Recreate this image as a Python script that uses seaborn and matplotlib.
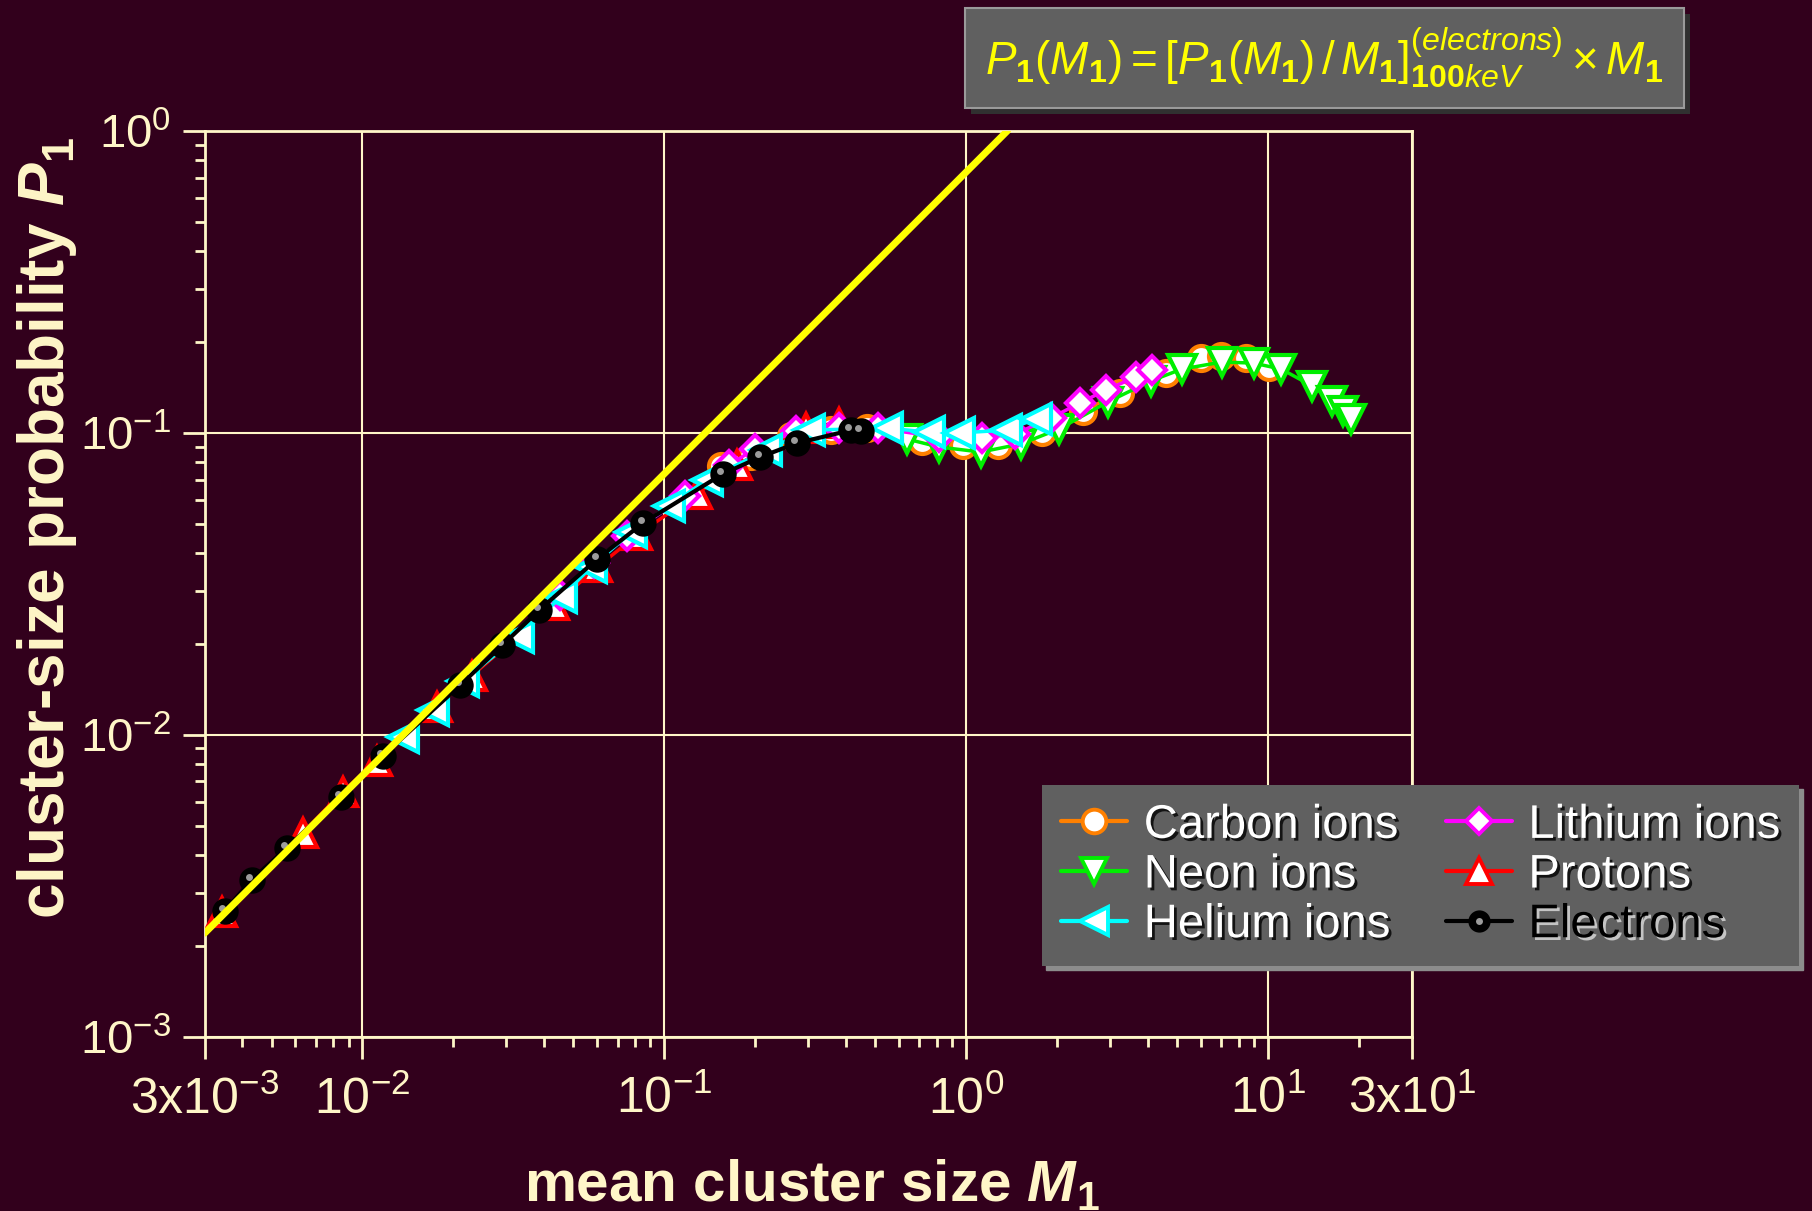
import matplotlib
matplotlib.use('Agg')
import matplotlib.pyplot as plt
import matplotlib.patheffects as pe
from matplotlib import font_manager
from matplotlib.lines import Line2D
from matplotlib.patches import Rectangle
from matplotlib.transforms import offset_copy
from matplotlib.ticker import FixedLocator, FixedFormatter, LogLocator, NullFormatter
import seaborn as sns

# values (mean cluster size M1, probability P1)
carbon_m = [0.154, 0.193, 0.263, 0.357, 0.469, 0.714, 0.975, 1.273, 1.780, 2.432, 3.224, 4.577, 5.975, 6.96, 8.42, 10.1]
carbon_p = [0.0776, 0.0837, 0.0975, 0.102, 0.1036, 0.0939, 0.0911, 0.0911, 0.1005, 0.118, 0.1353, 0.1576, 0.1767, 0.1794, 0.1767, 0.165]

neon_m = [0.637, 0.812, 1.118, 1.517, 2.026, 2.943, 4.083, 5.17, 7.015, 8.95, 11.07, 14.03, 16.33, 17.76, 18.87]
neon_p = [0.0953, 0.0897, 0.0863, 0.0918, 0.1028, 0.1264, 0.1483, 0.1624, 0.1714, 0.1701, 0.1624, 0.1427, 0.1273, 0.118, 0.111]

protons_m = [3.43e-3, 6.34e-3, 8.61e-3, 1.115e-2, 1.76e-2, 2.30e-2, 4.32e-2, 6.00e-2, 8.14e-2, 0.128, 0.174, 0.295, 0.379]
protons_p = [2.59e-3, 4.74e-3, 6.47e-3, 8.20e-3, 1.237e-2, 1.567e-2, 2.69e-2, 3.59e-2, 4.59e-2, 6.27e-2, 7.82e-2, 0.104, 0.108]

lithium_m = [4.50e-2, 5.87e-2, 7.54e-2, 0.117, 0.164, 0.199, 0.273, 0.379, 0.510, 0.812, 1.127, 1.449, 1.906, 2.377, 2.898, 3.64, 4.115]
lithium_p = [2.90e-2, 3.71e-2, 4.55e-2, 6.17e-2, 7.82e-2, 8.83e-2, 0.1013, 0.104, 0.1036, 0.0968, 0.0961, 0.099, 0.1118, 0.1254, 0.1384, 0.1528, 0.1612]

helium_m = [1.36e-2, 1.71e-2, 2.15e-2, 3.27e-2, 4.56e-2, 5.73e-2, 7.78e-2, 0.104, 0.138, 0.218, 0.302, 0.547, 0.752, 0.946, 1.353, 1.70]
helium_p = [9.84e-3, 1.209e-2, 1.508e-2, 2.11e-2, 2.86e-2, 3.59e-2, 4.69e-2, 5.72e-2, 6.98e-2, 8.76e-2, 0.102, 0.1036, 0.1005, 0.0998, 0.102, 0.111]

electron_m = [3.50e-3, 4.30e-3, 5.62e-3, 8.48e-3, 1.167e-2, 2.11e-2, 2.91e-2, 3.86e-2, 6.00e-2, 8.52e-2, 0.156, 0.208, 0.275, 0.416, 0.448]
electron_p = [2.61e-3, 3.31e-3, 4.22e-3, 6.23e-3, 8.51e-3, 1.46e-2, 1.98e-2, 2.59e-2, 3.82e-2, 5.03e-2, 7.30e-2, 8.31e-2, 9.24e-2, 0.102, 0.1013]

# yellow scaling line P1 ~ M1
fit_m = [0.003, 1.37]
fit_p = [0.0022, 1.0]

x_ticks = [3e-3, 1e-2, 1e-1, 1, 10, 30]
x_ticklabels = [r'$\mathsf{3x10^{-3}}$', r'$\mathsf{10^{-2}}$', r'$\mathsf{10^{-1}}$',
                r'$\mathsf{10^{0}}$', r'$\mathsf{10^{1}}$', r'$\mathsf{3x10^{1}}$']
y_ticks = [1e-3, 1e-2, 1e-1, 1]
y_ticklabels = [r'$10^{-3}$', r'$10^{-2}$', r'$10^{-1}$', r'$10^{0}$']

bg = '#32001c'
cream = '#fff6c8'

sns.set_style('ticks')
names = {f.name for f in font_manager.fontManager.ttflist}
narrow = 'Liberation Sans Narrow' if 'Liberation Sans Narrow' in names else 'Liberation Sans'
plt.rcParams['font.family'] = ['Liberation Sans', 'DejaVu Sans']
plt.rcParams['mathtext.fontset'] = 'custom'
plt.rcParams['mathtext.rm'] = 'Liberation Sans'
plt.rcParams['mathtext.it'] = 'Liberation Sans:italic'
plt.rcParams['mathtext.bf'] = 'Liberation Sans:bold'
plt.rcParams['mathtext.sf'] = narrow
plt.rcParams['mathtext.bfit'] = narrow + ':italic:bold'

fig = plt.figure(figsize=(18.12, 12.11), dpi=100, facecolor=bg)
ax = fig.add_axes([0.1129, 0.144, 0.6664, 0.748], facecolor=bg)
ax.set_xscale('log')
ax.set_yscale('log')


def series(m, p, color, marker, ms, z, face='white', lw=2.5):
    sns.lineplot(x=m, y=p, ax=ax, color=color, marker=marker, linewidth=lw,
                 sort=False, estimator=None, zorder=z)
    line = ax.lines[-1]
    line.set_markersize(ms)
    line.set_markerfacecolor(face)
    line.set_markeredgecolor(color)
    line.set_markeredgewidth(3)


series(carbon_m, carbon_p, '#ff8000', 'o', 18, 3)
series(neon_m, neon_p, '#00ee00', 'v', 20, 4)
series(protons_m, protons_p, '#ff0000', '^', 20, 5)
series(lithium_m, lithium_p, '#ff00ff', 'D', 14, 6)
series(helium_m, helium_p, '#00ffff', '<', 21, 7)
series(electron_m, electron_p, 'black', 'o', 16, 8, face='black', lw=3)
# little highlight on the electron "balls"
ax.plot(electron_m, electron_p, ls='none', marker='o', ms=5, mfc='#9c9c9c', mec='none', zorder=9,
        transform=offset_copy(ax.transData, fig=fig, x=-2, y=2, units='points'))
sns.lineplot(x=fit_m, y=fit_p, ax=ax, color='#ffff00', linewidth=5, sort=False,
             estimator=None, zorder=10)

ax.set_xlim(3e-3, 30)
ax.set_ylim(1e-3, 1)
ax.xaxis.set_major_locator(FixedLocator(x_ticks))
ax.xaxis.set_major_formatter(FixedFormatter(x_ticklabels))
ax.yaxis.set_major_locator(FixedLocator(y_ticks))
ax.yaxis.set_major_formatter(FixedFormatter(y_ticklabels))
ax.xaxis.set_minor_locator(LogLocator(base=10, subs=range(2, 10), numticks=20))
ax.yaxis.set_minor_locator(LogLocator(base=10, subs=range(2, 10), numticks=20))
ax.xaxis.set_minor_formatter(NullFormatter())
ax.yaxis.set_minor_formatter(NullFormatter())

ax.grid(True, which='major', color=cream, linewidth=1.5)
ax.set_axisbelow(True)
for s in ax.spines.values():
    s.set_color(cream)
    s.set_linewidth(2)
ax.tick_params(which='major', direction='out', length=16, width=2, color=cream, labelcolor=cream)
ax.tick_params(which='minor', direction='out', length=7, width=2, color=cream)
ax.tick_params(axis='x', which='major', labelsize=36, pad=12)
ax.tick_params(axis='y', which='major', labelsize=34, pad=8)
ax.set_xlabel('')
ax.set_ylabel('')

fig.text(0.448, 0.008, r'mean cluster size $\mathbfit{M}_{\mathbf{1}}$', ha='center', va='baseline',
         fontsize=42, fontweight='bold', family=narrow, color=cream)
fig.text(0.026, 0.564, r'cluster-size probability $\mathbfit{P}_{\mathbf{1}}$', ha='center', va='center',
         rotation=90, fontsize=46, fontweight='bold', family=narrow, color=cream)

# formula box
fig.patches.append(Rectangle((0.5359, 0.9058), 0.3968, 0.0826, transform=fig.transFigure,
                             facecolor='#303030', edgecolor='none', zorder=1))
fig.patches.append(Rectangle((0.5326, 0.9108), 0.3968, 0.0826, transform=fig.transFigure,
                             facecolor='#606060', edgecolor='#9a9a9a', linewidth=1.5, zorder=2))
fig.text(0.731, 0.952,
         r'$P_{\mathbf{1}}(M_{\mathbf{1}}) = [P_{\mathbf{1}}(M_{\mathbf{1}})\,/\,M_{\mathbf{1}}]'
         r'^{(electrons)}_{\mathbf{100}keV}\times M_{\mathbf{1}}$',
         ha='center', va='center', fontsize=33, color='#ffff00', zorder=3)

# legend
def handle(color, marker, ms):
    return Line2D([], [], color=color, lw=3, marker=marker, ms=ms, mfc='white', mec=color, mew=2.8)

h_elec = (Line2D([], [], color='black', lw=3, marker='o', ms=15, mfc='black', mec='black'),
          Line2D([], [], ls='none', marker='o', ms=5, mfc='#9c9c9c', mec='none'))
handles = [handle('#ff8000', 'o', 17), handle('#00ee00', 'v', 19), handle('#00ffff', '<', 20),
           handle('#ff00ff', 'D', 13), handle('#ff0000', '^', 19), h_elec]
labels = ['Carbon ions', 'Neon ions', 'Helium ions', 'Lithium ions', 'Protons', 'Electrons']
leg = fig.legend(handles, labels, ncol=2, loc='center', bbox_to_anchor=(0.784, 0.277),
                 frameon=True, fancybox=False, facecolor='#606060', edgecolor='none', framealpha=1,
                 shadow={'ox': 3, 'oy': -3, 'facecolor': '#8c8c8c', 'edgecolor': '#8c8c8c', 'alpha': 1},
                 fontsize=34, handlelength=1.4, handletextpad=0.35, columnspacing=1.0,
                 labelspacing=0.12, borderpad=0.4, borderaxespad=0)
for t in leg.get_texts():
    if t.get_text() == 'Electrons':
        t.set_color('black')
        t.set_path_effects([pe.withSimplePatchShadow(offset=(2, -2), shadow_rgbFace='#d0d0d0', alpha=0.9)])
    else:
        t.set_color('white')
        t.set_path_effects([pe.withSimplePatchShadow(offset=(2, -2), shadow_rgbFace='black', alpha=0.8)])

fig.savefig('out.png', dpi=100, facecolor=bg)
